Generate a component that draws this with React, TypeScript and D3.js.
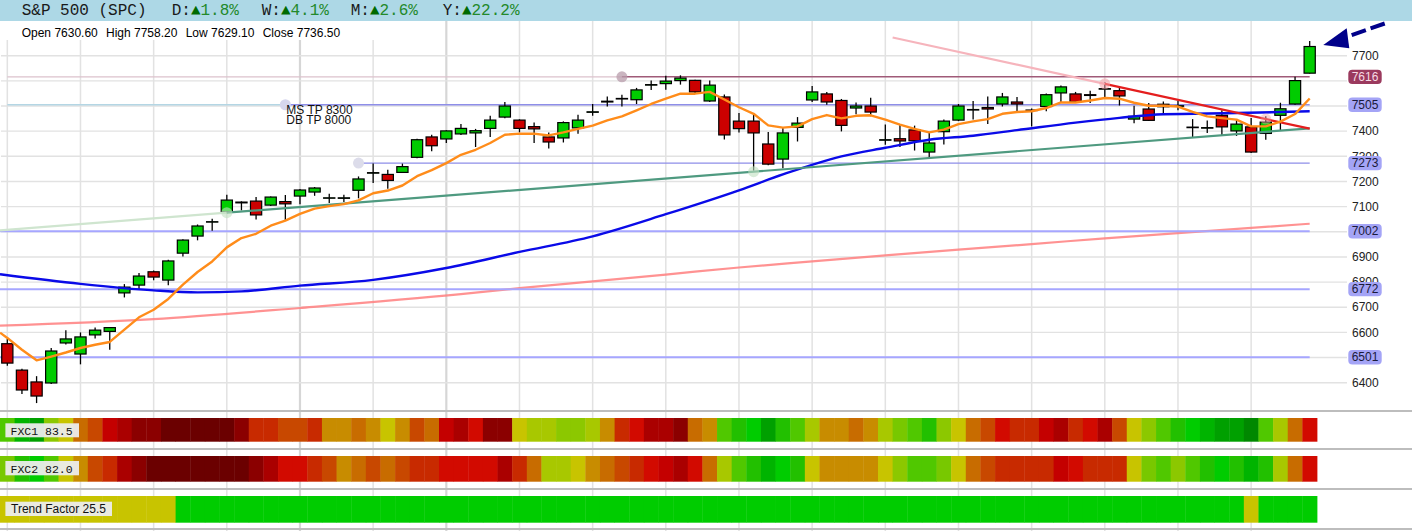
import React from 'react';
import * as d3 from 'd3';

// ---------------- DATA ----------------
const symbolTitle = 'S&P 500 (SPC)';
const periodLabels = ['D:', 'W:', 'M:', 'Y:'];
const periodChanges = ['1.8%', '4.1%', '2.6%', '22.2%'];

const opens = [
  6555, 6450, 6403, 6399, 6558, 6514, 6590, 6604, 6757, 6788,
  6841, 6808, 6915, 6983, 7039, 7079, 7118, 7122, 7106, 7120,
  7142, 7158, 7134, 7133, 7165, 7233, 7228, 7236, 7296, 7377,
  7369, 7389, 7393, 7411, 7456, 7444, 7418, 7377, 7373, 7413,
  7475, 7519, 7528, 7525, 7583, 7589, 7601, 7602, 7520, 7536,
  7440, 7440, 7349, 7289, 7415, 7524, 7548, 7522, 7492, 7500,
  7364, 7370, 7405, 7317, 7398, 7444, 7484, 7494, 7508, 7516,
  7484, 7498, 7552, 7548, 7545, 7567, 7561, 7448, 7488, 7507,
  7499, 7414, 7412, 7463, 7401, 7417, 7391, 7463, 7508, 7630.6,
];
const highs = [
  6574, 6455, 6426, 6538, 6609, 6600, 6619, 6621, 6792, 6836,
  6846, 6889, 6970, 7029, 7052, 7147, 7121, 7138, 7140, 7146,
  7170, 7178, 7151, 7147, 7220, 7271, 7247, 7271, 7370, 7386,
  7404, 7428, 7409, 7461, 7516, 7447, 7434, 7395, 7439, 7465,
  7508, 7538, 7545, 7572, 7601, 7620, 7622, 7604, 7601, 7546,
  7472, 7469, 7397, 7413, 7456, 7580, 7556, 7528, 7514, 7533,
  7426, 7428, 7422, 7395, 7446, 7508, 7520, 7538, 7552, 7536,
  7490, 7550, 7582, 7556, 7561, 7594, 7572, 7501, 7512, 7518,
  7521, 7448, 7442, 7483, 7446, 7452, 7459, 7513, 7616, 7758.2,
];
const lows = [
  6467, 6355, 6319, 6395, 6552, 6473, 6576, 6531, 6739, 6770,
  6807, 6787, 6902, 6966, 7004, 7074, 7085, 7049, 7102, 7045,
  7109, 7143, 7114, 7118, 7133, 7194, 7171, 7234, 7292, 7320,
  7353, 7385, 7337, 7377, 7451, 7395, 7353, 7331, 7355, 7390,
  7461, 7498, 7498, 7508, 7564, 7565, 7585, 7549, 7516, 7367,
  7395, 7243, 7264, 7253, 7359, 7516, 7505, 7399, 7467, 7459,
  7346, 7337, 7323, 7296, 7347, 7440, 7446, 7428, 7498, 7476,
  7419, 7479, 7512, 7512, 7512, 7528, 7502, 7431, 7440, 7468,
  7483, 7375, 7393, 7383, 7381, 7313, 7366, 7402, 7505, 7629.1,
];
const closes = [
  6478, 6371, 6347, 6526, 6574, 6582, 6609, 6619, 6780, 6824,
  6820, 6884, 6967, 7023, 7040, 7126, 7115, 7067, 7138, 7111,
  7166, 7174, 7135, 7135, 7210, 7235, 7204, 7259, 7366, 7342,
  7401, 7411, 7402, 7444, 7500, 7411, 7409, 7357, 7434, 7444,
  7477, 7516, 7530, 7564, 7585, 7599, 7611, 7556, 7583, 7385,
  7410, 7393, 7269, 7393, 7432, 7556, 7516, 7423, 7500, 7476,
  7366, 7361, 7362, 7353, 7440, 7500, 7486, 7488, 7536, 7508,
  7482, 7545, 7576, 7517, 7542, 7569, 7540, 7459, 7443, 7497,
  7501, 7416, 7414, 7417, 7428, 7317, 7436, 7489, 7601, 7736.5,
];

// fast moving average (orange), one value per candle, plus value at left edge
const fastMAStart = 6599;
const fastMA = [
  6578, 6531, 6489, 6504, 6520, 6538, 6551, 6562, 6611, 6660,
  6690, 6733, 6790, 6840, 6882, 6938, 6975, 6992, 7024, 7044,
  7071, 7092, 7102, 7110, 7125, 7153, 7164, 7184, 7221, 7245,
  7273, 7306, 7326, 7353, 7386, 7390, 7390, 7383, 7395, 7409,
  7422, 7443, 7459, 7483, 7508, 7529, 7549, 7549, 7556, 7526,
  7495, 7469, 7423, 7414, 7419, 7448, 7464, 7451, 7461, 7463,
  7446, 7426, 7409, 7395, 7406, 7428, 7439, 7448, 7469, 7476,
  7479, 7492, 7514, 7514, 7522, 7532, 7529, 7513, 7501, 7501,
  7498, 7477, 7459, 7452, 7446, 7419, 7419, 7438, 7468, 7530,
];

// slow moving average (blue): [candle index, price]
const slowMA: [number, number][] = [
  [-0.5, 6831], [5, 6793], [10, 6767], [13, 6759], [16, 6763], [20, 6786],
  [25, 6809], [30, 6856], [35, 6920], [40, 6982], [45, 7070], [50, 7165],
  [53, 7228], [57, 7300], [60, 7334], [63, 7366], [66, 7382], [69, 7404],
  [73, 7434], [76, 7453], [79, 7467], [84, 7472], [89, 7479],
];

// long moving average (salmon): [candle index, price]
const longMA: [number, number][] = [
  [-0.5, 6627], [10, 6653], [20, 6697], [31, 6752], [35, 6776], [40, 6803],
  [45, 6830], [50, 6858], [55, 6882], [60, 6906], [65, 6929], [70, 6951],
  [75, 6974], [89, 7032],
];

// trend lines: start index (pale extension), two anchors, end index
const upTrend = { from: -0.5, a: [15, 7076], b: [51, 7239], to: 89 };
const downTrend = { from: 60.5, a: [75, 7588], b: [86, 7448], to: 89 };

// horizontal levels
const resistanceLevel = { price: 7616, anchor: 42 };
const targetLevel = { price: 7505, anchor: 19 };
const supportLevel = { price: 7273, anchor: 24 };
const fullLevels = [7002, 6772, 6501];
const targetNotes = ['MS TP 8300', 'DB TP 8000'];

const priceTicks = [6400, 6500, 6600, 6700, 6800, 6900, 7000, 7100, 7200, 7300, 7400, 7500, 7600, 7700];

// heat strips (palette index per candle: 0 = darkest red ... 18 = darkest green)
const heatPalette = [
  '#6b0000', '#8b0000', '#aa0000', '#c40000', '#d20a00', '#c82a00', '#c84800',
  '#c86c00', '#c88c00', '#c8c400', '#a8c800', '#8cc800', '#78c800', '#50c800',
  '#22c000', '#00cc00', '#00b400', '#00a000', '#008800',
];
const fxc1Levels = [
  13, 16, 17, 11, 9, 7, 6, 3, 2, 1,
  1, 0, 0, 0, 0, 0, 1, 5, 5, 6,
  6, 5, 8, 8, 7, 8, 9, 8, 6, 7,
  3, 2, 4, 1, 1, 9, 10, 10, 11, 11,
  10, 8, 5, 4, 2, 2, 1, 7, 8, 13,
  14, 15, 17, 14, 13, 10, 8, 8, 7, 8,
  10, 12, 13, 14, 11, 9, 7, 6, 4, 5,
  5, 3, 2, 5, 4, 2, 6, 9, 11, 13,
  14, 15, 16, 17, 17, 18, 13, 10, 7, 4,
];
const fxc2Levels = [
  12, 14, 15, 13, 9, 8, 6, 5, 2, 1,
  0, 0, 0, 0, 0, 0, 0, 1, 2, 4,
  4, 5, 6, 8, 7, 6, 7, 6, 5, 5,
  4, 4, 4, 4, 2, 5, 7, 10, 10, 9,
  8, 7, 6, 5, 4, 3, 2, 4, 7, 10,
  13, 14, 16, 15, 14, 9, 8, 8, 8, 8,
  9, 11, 13, 13, 12, 9, 7, 6, 5, 5,
  5, 5, 3, 4, 5, 5, 5, 9, 12, 13,
  11, 13, 14, 15, 14, 16, 14, 10, 7, 4,
];
const trendLevels = [
  9, 9, 9, 9, 9, 9, 9, 9, 9, 9,
  9, 9, 15, 15, 15, 15, 15, 15, 15, 15,
  15, 15, 15, 15, 15, 15, 15, 15, 15, 15,
  15, 15, 15, 15, 15, 15, 15, 15, 15, 15,
  15, 15, 15, 15, 15, 15, 15, 15, 15, 15,
  15, 15, 15, 15, 15, 15, 15, 15, 15, 15,
  15, 15, 15, 15, 15, 15, 15, 15, 15, 15,
  15, 15, 15, 15, 15, 15, 15, 15, 15, 15,
  15, 15, 15, 15, 15, 9, 15, 15, 15, 15,
];
const stripNames = ['FXC1', 'FXC2', 'Trend Factor'];
const stripValues = ['83.5', '82.0', '25.5'];

// ---------------- CHART ----------------
const W = 1412;
const H = 531;
const SANS = '"Liberation Sans", Arial, sans-serif';
const MONO = '"Liberation Mono", "Courier New", monospace';

const n = closes.length;
const x = d3.scaleLinear().domain([-0.5, n - 0.5]).range([0, 1317]);
const y = d3.scaleLinear().domain([6400, 7700]).range([382.7, 55.7]);

const linear = d3.line<[number, number]>().x((d) => x(d[0])).y((d) => y(d[1]));
const smooth = d3
  .line<[number, number]>()
  .x((d) => x(d[0]))
  .y((d) => y(d[1]))
  .curve(d3.curveMonotoneX);

function trendAt(t: { a: number[]; b: number[] }, i: number) {
  const slope = (t.b[1] - t.a[1]) / (t.b[0] - t.a[0]);
  return t.a[1] + (i - t.a[0]) * slope;
}

export default function App() {
  const fastPts: [number, number][] = [[-0.5, fastMAStart], ...fastMA.map((v, i) => [i, v] as [number, number])];
  const gridIdx = d3.range(0, n - 4, 5);
  const lastX = x(n - 1);
  const last = n - 1;

  const strips = [
    { levels: fxc1Levels, top: 418, h: 23.7 },
    { levels: fxc2Levels, top: 456, h: 25.7 },
    { levels: trendLevels, top: 496, h: 26.7 },
  ];
  const trendColors: Record<number, string> = { 9: '#c8c400', 15: '#00cc00' };

  const badges = [
    { v: resistanceLevel.price, fill: '#9b3a5e', color: '#f6dbe4' },
    { v: targetLevel.price, fill: '#a4a4f6', color: '#1a1a3a' },
    { v: supportLevel.price, fill: '#a4a4f6', color: '#1a1a3a' },
    ...fullLevels.map((v) => ({ v, fill: '#a4a4f6', color: '#1a1a3a' })),
  ];
  // tick labels fully hidden under a badge in the reference are not drawn
  const visibleTicks = priceTicks.filter((p) => badges.every((b) => Math.abs(y(p) - y(b.v)) > 5));

  const tipX = lastX + 13.6;
  const tipY = y(highs[last]) + 4;

  const ohlc = [
    `Open ${opens[last].toFixed(2)}`,
    `High ${highs[last].toFixed(2)}`,
    `Low ${lows[last].toFixed(2)}`,
    `Close ${closes[last].toFixed(2)}`,
  ];
  const ohlcX = [21.7, 106, 185.7, 262.7];
  const periodX = [171.7, 261.7, 350.7, 442.7];

  return (
    <svg
      width={W}
      height={H}
      viewBox={`0 0 ${W} ${H}`}
      style={{ position: 'absolute', left: 0, top: 0, background: '#fff' }}
    >
      <rect x={0} y={0} width={W} height={H} fill="#ffffff" />

      {/* vertical grid */}
      {gridIdx.map((i) => (
        <line
          key={'vg' + i}
          x1={x(i)}
          x2={x(i)}
          y1={21}
          y2={H}
          stroke={i === 20 || i === 30 ? '#d6d6d6' : '#e2e2e2'}
          strokeWidth={i === 20 || i === 30 ? 2.2 : 1.5}
        />
      ))}
      {/* horizontal grid */}
      {priceTicks.map((p) => (
        <line key={'hg' + p} x1={1} x2={1347} y1={y(p)} y2={y(p)} stroke="#e2e2e2" strokeWidth={1.4} />
      ))}

      {/* white box behind OHLC line */}
      <rect x={0} y={21} width={405} height={19} fill="#ffffff" />

      {/* long MA */}
      <path d={smooth(longMA) || ''} fill="none" stroke="#ff7f7f" strokeOpacity={0.85} strokeWidth={2.2} />

      {/* full-width levels */}
      {fullLevels.map((p) => (
        <line key={'fl' + p} x1={0} x2={lastX} y1={y(p)} y2={y(p)} stroke="#a6a6ff" strokeWidth={2} />
      ))}

      {/* resistance level 7616 */}
      <line x1={x(0)} x2={x(resistanceLevel.anchor)} y1={y(resistanceLevel.price)} y2={y(resistanceLevel.price)} stroke="#dcc2cc" strokeWidth={1.3} />
      <line x1={x(resistanceLevel.anchor)} x2={lastX} y1={y(resistanceLevel.price)} y2={y(resistanceLevel.price)} stroke="#a05a78" strokeWidth={1.5} />
      <circle cx={x(resistanceLevel.anchor)} cy={y(resistanceLevel.price)} r={5.5} fill="#b89cab" fillOpacity={0.75} />

      {/* target level 7505 */}
      <line x1={x(0)} x2={x(targetLevel.anchor)} y1={y(targetLevel.price)} y2={y(targetLevel.price)} stroke="#b4d6e4" strokeWidth={1.3} />
      <line x1={x(targetLevel.anchor)} x2={lastX} y1={y(targetLevel.price)} y2={y(targetLevel.price)} stroke="#8e8ee8" strokeWidth={1.3} />
      <circle cx={x(targetLevel.anchor)} cy={y(targetLevel.price)} r={5.5} fill="#d6d6ee" />
      {targetNotes.map((t, k) => (
        <text key={t} x={x(targetLevel.anchor) + 1} y={y(targetLevel.price) + 9.3 + k * 10} fontFamily={SANS} fontSize={12} fill="#111">
          {t}
        </text>
      ))}

      {/* support level 7273 */}
      <line x1={x(supportLevel.anchor)} x2={lastX} y1={y(supportLevel.price)} y2={y(supportLevel.price)} stroke="#8e8ee8" strokeWidth={1.2} />
      <circle cx={x(supportLevel.anchor)} cy={y(supportLevel.price)} r={5.5} fill="#dcdcea" />

      {/* candles */}
      {closes.map((c, i) => {
        const o = opens[i];
        const cx = x(i);
        const top = y(Math.max(o, c));
        const bot = y(Math.min(o, c));
        const up = c >= o;
        return (
          <g key={'c' + i}>
            <line x1={cx} x2={cx} y1={y(highs[i])} y2={y(lows[i])} stroke="#000" strokeWidth={1.3} />
            <rect
              x={cx - 5.6}
              y={top}
              width={11.2}
              height={Math.max(bot - top, 0.4)}
              fill={up ? '#00cc00' : '#cc0000'}
              stroke="#000"
              strokeWidth={1.2}
            />
          </g>
        );
      })}

      {/* slow MA */}
      <path d={smooth(slowMA) || ''} fill="none" stroke="#0a0ae8" strokeWidth={2.4} />

      {/* up trend line */}
      {(() => {
        const p0: [number, number] = [upTrend.from, trendAt(upTrend, upTrend.from)];
        const pa: [number, number] = [upTrend.a[0], upTrend.a[1]];
        const pe: [number, number] = [upTrend.to, trendAt(upTrend, upTrend.to)];
        return (
          <g>
            <path d={linear([p0, pa]) || ''} stroke="#cfe5cf" strokeWidth={2.2} fill="none" />
            <path d={linear([pa, pe]) || ''} stroke="#4f9a80" strokeWidth={2.2} fill="none" />
            <circle cx={x(upTrend.a[0])} cy={y(upTrend.a[1])} r={5.5} fill="#bfe0bf" fillOpacity={0.6} />
            <circle cx={x(upTrend.b[0])} cy={y(upTrend.b[1])} r={5.5} fill="#bfe0bf" fillOpacity={0.6} />
          </g>
        );
      })()}

      {/* down trend line */}
      {(() => {
        const p0: [number, number] = [downTrend.from, trendAt(downTrend, downTrend.from)];
        const pa: [number, number] = [downTrend.a[0], downTrend.a[1]];
        const pe: [number, number] = [downTrend.to, trendAt(downTrend, downTrend.to)];
        return (
          <g>
            <path d={linear([p0, pa]) || ''} stroke="#f6b4bc" strokeWidth={2.2} fill="none" />
            <path d={linear([pa, pe]) || ''} stroke="#e41e1e" strokeWidth={2.2} fill="none" />
            <circle cx={x(downTrend.a[0])} cy={y(downTrend.a[1])} r={5.5} fill="#f4a0a8" fillOpacity={0.55} />
            <circle cx={x(downTrend.b[0])} cy={y(downTrend.b[1])} r={5.5} fill="#f4a0a8" fillOpacity={0.45} />
          </g>
        );
      })()}

      {/* fast MA */}
      <path d={linear(fastPts) || ''} fill="none" stroke="#ff8c1a" strokeWidth={2.4} strokeLinejoin="round" />

      {/* price axis labels */}
      {visibleTicks.map((p) => (
        <text key={'tl' + p} x={1352} y={y(p)} dy="0.35em" fontFamily={SANS} fontSize={12} fill="#222">
          {p}
        </text>
      ))}
      {badges.map((b) => (
        <g key={'b' + b.v}>
          <rect x={1348.3} y={y(b.v) - 7.2} width={33.4} height={14.4} rx={4} fill={b.fill} />
          <text x={1365} y={y(b.v)} dy="0.35em" textAnchor="middle" fontFamily={SANS} fontSize={12} fill={b.color}>
            {b.v}
          </text>
        </g>
      ))}

      {/* arrow annotation */}
      <polygon
        points={`${tipX},${tipY} ${tipX + 23.4},${tipY - 16.7} ${tipX + 26},${tipY + 3.3}`}
        fill="#00008a"
      />
      <line x1={tipX + 28.4} y1={tipY - 10} x2={tipX + 62.7} y2={tipY - 22} stroke="#00008a" strokeWidth={4} strokeDasharray="15 5" />

      {/* strips */}
      {[411, 449, 489, 529].map((yy) => (
        <line key={'sep' + yy} x1={0} x2={W} y1={yy} y2={yy} stroke="#bdbdbd" strokeWidth={2} />
      ))}
      {strips.map((s, si) =>
        s.levels.map((lv, k) => (
          <rect
            key={`s${si}-${k}`}
            x={x(k - 0.5)}
            y={s.top}
            width={x(k + 0.5) - x(k - 0.5) + 0.4}
            height={s.h}
            fill={si === 2 ? trendColors[lv] : heatPalette[lv]}
          />
        ))
      )}
      {/* strip labels */}
      <rect x={5.4} y={423.3} width={73.6} height={14} fill="#ececec" fillOpacity={0.95} />
      <text x={10.5} y={434.5} fontFamily={MONO} fontSize={11.5} fill="#111">{`${stripNames[0]} ${stripValues[0]}`}</text>
      <rect x={5.4} y={461} width={73.6} height={14.3} fill="#ececec" fillOpacity={0.95} />
      <text x={10.5} y={472.5} fontFamily={MONO} fontSize={11.5} fill="#111">{`${stripNames[1]} ${stripValues[1]}`}</text>
      <rect x={5.4} y={501.7} width={106.6} height={14.3} fill="#ececec" fillOpacity={0.95} />
      <text x={11} y={513} fontFamily={SANS} fontSize={12} fill="#111">{`${stripNames[2]} ${stripValues[2]}`}</text>

      {/* header */}
      <rect x={0} y={0} width={W} height={21} fill="#add8e6" />
      <text x={21.7} y={15.3} fontFamily={MONO} fontSize={16} fill="#1a1a1a">
        {symbolTitle}
      </text>
      {periodLabels.map((lb, k) => (
        <text key={lb} x={periodX[k]} y={15.3} fontFamily={MONO} fontSize={16} fill="#1a1a1a">
          {lb}
          <tspan fill="#006a00">▲</tspan>
          <tspan fill="#23892a">{periodChanges[k]}</tspan>
        </text>
      ))}

      {/* OHLC line */}
      {ohlc.map((t, k) => (
        <text key={t} x={ohlcX[k]} y={36.7} fontFamily={SANS} fontSize={12} fill="#000">
          {t}
        </text>
      ))}
    </svg>
  );
}
